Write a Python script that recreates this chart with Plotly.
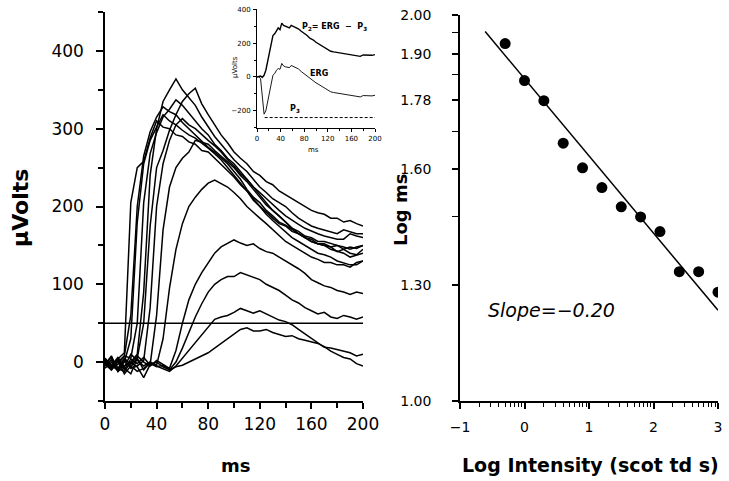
import plotly.graph_objects as go

# ---------------- data: left panel (P2 responses) ----------------
t_ms = [0, 5, 10, 15, 20, 25, 30, 35, 40, 45, 50, 55, 60, 65, 70, 75, 80, 85, 90, 95,
        100, 105, 110, 115, 120, 125, 130, 135, 140, 145, 150, 155, 160, 165, 170, 175,
        180, 185, 190, 195, 200]

resp_1 = [0, -6, 4, 12, 205, 250, 258, 288, 310, 302, 300, 292, 290, 283, 280, 272, 270, 262, 255, 246,
          238, 228, 220, 208, 200, 192, 185, 178, 175, 168, 165, 160, 158, 152, 152, 148, 150, 145, 148, 146, 150]
resp_2 = [5, -8, -3, 8, 60, 200, 265, 296, 315, 328, 322, 318, 308, 300, 292, 285, 276, 270, 262, 255,
          245, 235, 222, 212, 205, 195, 188, 180, 176, 170, 165, 160, 155, 152, 150, 148, 142, 145, 140, 138, 145]
resp_3 = [-5, 3, -10, 0, 30, 180, 255, 285, 302, 318, 310, 305, 298, 292, 288, 282, 275, 268, 260, 250,
          240, 230, 220, 210, 200, 190, 182, 175, 168, 160, 155, 150, 145, 140, 138, 135, 130, 128, 125, 125, 130]
resp_4 = [2, -10, 0, 8, 5, 50, 205, 268, 295, 315, 325, 337, 330, 320, 310, 300, 292, 280, 272, 262,
          255, 245, 235, 225, 218, 210, 202, 195, 188, 182, 177, 172, 168, 165, 162, 160, 158, 158, 165, 162, 160]
resp_5 = [-3, 8, -12, -5, 0, 10, 90, 240, 300, 335, 350, 364, 350, 340, 330, 315, 302, 290, 280, 270,
          260, 252, 245, 235, 225, 218, 210, 205, 200, 192, 185, 180, 175, 172, 170, 168, 165, 170, 168, 165, 165]
resp_6 = [0, -10, 5, -8, -15, 5, 50, 175, 250, 272, 298, 318, 335, 345, 352, 332, 318, 305, 292, 282,
          270, 262, 255, 245, 240, 232, 228, 220, 215, 210, 205, 200, 195, 192, 190, 185, 185, 180, 182, 178, 175]
resp_7 = [5, -5, -10, 3, -8, -5, 2, 70, 200, 255, 285, 305, 313, 305, 300, 292, 285, 278, 270, 260,
          252, 242, 235, 225, 215, 205, 195, 188, 180, 172, 168, 162, 160, 155, 155, 152, 150, 148, 145, 148, 150]
resp_8 = [-2, 6, -8, -12, 0, -6, -20, -3, 60, 170, 225, 250, 262, 270, 285, 282, 280, 272, 265, 258,
          250, 240, 232, 222, 212, 202, 195, 188, 180, 172, 165, 160, 155, 152, 150, 145, 142, 140, 135, 138, 140]
resp_9 = [3, -4, 6, -6, 10, 2, -5, 0, -4, 30, 95, 145, 178, 200, 212, 222, 230, 234, 230, 225,
          218, 210, 200, 192, 185, 178, 170, 162, 155, 150, 145, 140, 135, 132, 128, 128, 125, 125, 122, 128, 130]
resp_10 = [-5, 3, -8, 5, -3, 8, 0, -5, 2, -3, -8, 15, 50, 80, 100, 115, 128, 140, 148, 152,
           157, 153, 150, 152, 146, 142, 140, 135, 130, 126, 120, 114, 106, 102, 98, 96, 92, 90, 87, 90, 88]
resp_11 = [2, -8, 5, -10, 4, -2, 6, -4, 0, -6, -10, 0, 18, 38, 58, 75, 90, 100, 106, 110,
           110, 115, 112, 108, 106, 100, 96, 92, 86, 80, 76, 70, 66, 62, 64, 58, 56, 60, 58, 55, 58]
resp_12 = [-8, 0, -12, 2, -6, 5, -10, 0, -5, -8, -12, -5, 5, 15, 25, 35, 45, 55, 58, 60,
           64, 69, 66, 63, 66, 62, 58, 54, 52, 48, 42, 36, 30, 25, 19, 18, 16, 14, 12, 8, 10]
resp_13 = [-3, -10, 2, -15, -5, -12, -8, -2, -6, -4, -10, -6, -4, 0, 5, 8, 12, 18, 24, 30,
           36, 42, 44, 40, 40, 42, 38, 35, 33, 34, 30, 28, 26, 24, 20, 14, 10, 6, 4, -2, -5]

responses = [resp_1, resp_2, resp_3, resp_4, resp_5, resp_6, resp_7, resp_8, resp_9,
             resp_10, resp_11, resp_12, resp_13]

criterion_x = [0, 200]
criterion_uv = [50, 50]

left_xticks = [0, 40, 80, 120, 160, 200]
left_yticks = [0, 100, 200, 300, 400]

# ---------------- data: inset ----------------
inset_t = [0, 3, 6, 9, 12, 15, 18, 21, 24, 27, 30, 33, 36, 39, 42, 45, 48, 51, 55, 58, 61, 65, 70, 75,
           80, 85, 90, 95, 100, 105, 110, 115, 120, 125, 130, 135, 140, 145, 150, 155, 160, 165, 170,
           175, 180, 185, 190, 195, 200]
inset_p2 = [0, 3, 5, -2, 10, 40, 95, 150, 190, 245, 255, 275, 290, 280, 318, 305, 300, 298, 290, 305,
            300, 295, 285, 270, 258, 245, 228, 220, 205, 195, 185, 175, 160, 152, 148, 145, 142, 140,
            135, 130, 128, 125, 125, 122, 130, 128, 130, 128, 132]
inset_erg = [0, 2, -10, -100, -220, -200, -150, -110, -40, 10, 20, 40, 50, 45, 80, 65, 60, 58, 55, 68,
             62, 58, 48, 32, 18, 5, -10, -20, -35, -45, -55, -65, -80, -88, -92, -95, -98, -100, -105,
             -110, -112, -115, -115, -118, -110, -112, -110, -112, -108]
inset_p3_t = [13, 200]
inset_p3 = [-240, -240]

# ---------------- data: right panel ----------------
log_intensity = [-0.3, 0.0, 0.3, 0.6, 0.9, 1.2, 1.5, 1.8, 2.1, 2.4, 2.7, 3.0]
log_ms = [1.926, 1.830, 1.778, 1.668, 1.604, 1.553, 1.503, 1.477, 1.439, 1.335, 1.335, 1.282]
fit_x = [-0.61, 3.0]
fit_y = [1.957, 1.235]

right_xticks = [-1, 0, 1, 2, 3]
right_xticktext = ["\u22121", "0", "1", "2", "3"]
right_xminor = [d + m for d in [-1, 0, 1, 2] for m in
                [0.301, 0.477, 0.602, 0.699, 0.778, 0.845, 0.903, 0.954]]
right_yticks = [1.00, 1.30, 1.60, 1.78, 1.90, 2.00]
right_yticktext = ["1.00", "1.30", "1.60", "1.78", "1.90", "2.00"]
right_yminor = [1.477, 1.699, 1.845, 1.954]

FONT = "DejaVu Sans"
W, H = 729, 481

fig = go.Figure()

for r in responses:
    fig.add_trace(go.Scatter(x=t_ms, y=r, mode="lines",
                             line=dict(color="black", width=1.5),
                             xaxis="x", yaxis="y", showlegend=False, hoverinfo="skip"))
fig.add_trace(go.Scatter(x=criterion_x, y=criterion_uv, mode="lines",
                         line=dict(color="black", width=1.6), xaxis="x", yaxis="y", showlegend=False))

# inset
fig.add_trace(go.Scatter(x=inset_t, y=inset_p2, mode="lines", line=dict(color="black", width=1.4),
                         xaxis="x3", yaxis="y3", showlegend=False))
fig.add_trace(go.Scatter(x=inset_t, y=inset_erg, mode="lines", line=dict(color="black", width=0.9),
                         xaxis="x3", yaxis="y3", showlegend=False))
fig.add_trace(go.Scatter(x=inset_p3_t, y=inset_p3, mode="lines",
                         line=dict(color="black", width=1, dash="3px,2px"),
                         xaxis="x3", yaxis="y3", showlegend=False))

# right
fig.add_trace(go.Scatter(x=fit_x, y=fit_y, mode="lines", line=dict(color="black", width=1.5),
                         xaxis="x2", yaxis="y2", showlegend=False))
fig.add_trace(go.Scatter(x=log_intensity, y=log_ms, mode="markers",
                         marker=dict(color="black", size=11), xaxis="x2", yaxis="y2", showlegend=False))

def px(x):
    return x / W

def py(y):
    return 1 - y / H

axis_common = dict(showline=True, linecolor="black", linewidth=1.5, ticks="outside",
                   tickcolor="black", tickwidth=1.5, showgrid=False, zeroline=False,
                   tickmode="array", automargin=False)

fig.update_layout(
    width=W, height=H, margin=dict(l=0, r=0, t=0, b=0, autoexpand=False),
    paper_bgcolor="white", plot_bgcolor="white",
    font=dict(family=FONT, color="black"),
    xaxis=dict(axis_common, domain=[px(105), px(363)], range=[0, 200], anchor="y",
               tickvals=left_xticks, ticklen=6, tickfont=dict(size=17), ticklabelstandoff=1,
               minor=dict(tickmode="array", tickvals=[20, 60, 100, 140, 180], ticks="outside",
                          ticklen=5, tickwidth=1.5, tickcolor="black")),
    yaxis=dict(axis_common, domain=[py(401), py(12)], range=[-50, 450], anchor="x",
               tickvals=left_yticks, ticklen=7, tickfont=dict(size=17), ticklabelstandoff=9,
               minor=dict(tickmode="array", tickvals=[-50, 50, 150, 250, 350, 450], ticks="outside",
                          ticklen=5, tickwidth=1.5, tickcolor="black")),
    xaxis2=dict(axis_common, domain=[px(460), px(718)], range=[-1, 3], anchor="y2",
                tickvals=right_xticks, ticktext=right_xticktext, ticklen=6,
                tickfont=dict(size=14), ticklabelstandoff=6,
                minor=dict(tickmode="array", tickvals=right_xminor, ticks="outside",
                           ticklen=4, tickwidth=1.2, tickcolor="black")),
    yaxis2=dict(axis_common, domain=[py(401), py(15)], range=[1.0, 2.0], anchor="x2",
                tickvals=right_yticks, ticktext=right_yticktext, ticklen=6,
                tickfont=dict(size=14), ticklabelstandoff=18,
                minor=dict(tickmode="array", tickvals=right_yminor, ticks="outside",
                           ticklen=6, tickwidth=1.2, tickcolor="black")),
    xaxis3=dict(axis_common, domain=[px(257), px(375)], range=[0, 200], anchor="y3",
                linewidth=1, tickwidth=1, tickvals=[0, 40, 80, 120, 160, 200], ticklen=3,
                tickfont=dict(size=7), ticklabelstandoff=1,
                minor=dict(tickmode="array", tickvals=[20, 60, 100, 140, 180], ticks="outside",
                           ticklen=2, tickwidth=1, tickcolor="black")),
    yaxis3=dict(axis_common, domain=[py(127.7), py(9.3)], range=[-300, 400], anchor="x3",
                linewidth=1, tickwidth=1, tickvals=[-200, 0, 200, 400], ticklen=3,
                tickfont=dict(size=7), ticklabelstandoff=1,
                minor=dict(tickmode="array", tickvals=[-300, -100, 100, 300], ticks="outside",
                           ticklen=2, tickwidth=1, tickcolor="black")),
)

C = dict(xanchor="center", yanchor="middle", showarrow=False)
ann = [
    dict(C, text="<b>\u03bcVolts</b>", x=px(20), y=py(208), xref="paper", yref="paper",
         textangle=-90, font=dict(size=22)),
    dict(C, text="<b>ms</b>", x=px(235), y=py(465), xref="paper", yref="paper",
         font=dict(size=18)),
    dict(C, text="<b>Log ms</b>", x=px(400), y=py(210), xref="paper", yref="paper",
         textangle=-90, font=dict(size=18)),
    dict(C, text="<b>Log Intensity (scot td s)</b>", x=px(590), y=py(465), xref="paper",
         yref="paper", font=dict(size=19)),
    dict(C, text="<i>Slope=\u22120.20</i>", x=-0.6, y=1.236, xref="x2", yref="y2",
         font=dict(size=19), xanchor="left"),
    dict(C, text="\u03bcVolts", x=px(235), y=py(67), xref="paper", yref="paper",
         textangle=-90, font=dict(size=7)),
    dict(C, text="ms", x=px(313), y=py(150), xref="paper", yref="paper",
         font=dict(size=7)),
    dict(C, text="<b>P<sub>2</sub>= ERG  \u2212  P<sub>3</sub></b>", x=73, y=297, xref="x3",
         yref="y3", xanchor="left", font=dict(size=8)),
    dict(C, text="<b>ERG</b>", x=86, y=18, xref="x3", yref="y3", xanchor="left",
         font=dict(size=8)),
    dict(C, text="<b>P<sub>3</sub></b>", x=64, y=-190, xref="x3", yref="y3",
         font=dict(size=8)),
]
fig.update_layout(annotations=ann)

fig.write_html("out.html", config={"displayModeBar": False},
               post_script="document.body.style.margin='0';document.body.style.padding='0';")
